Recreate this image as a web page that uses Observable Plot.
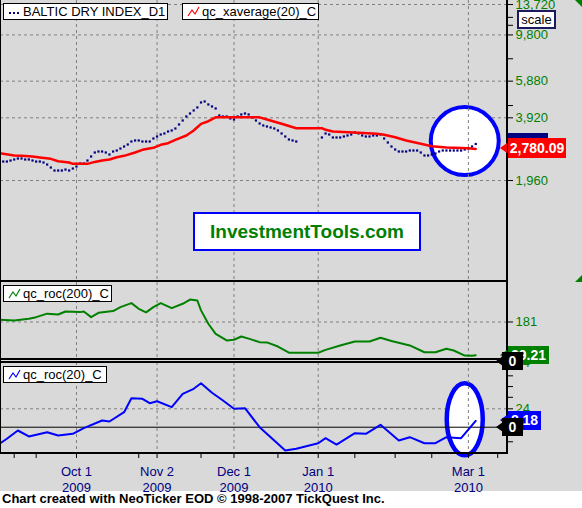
<!DOCTYPE html>
<html><head><meta charset="utf-8">
<script src="https://cdn.jsdelivr.net/npm/d3@7"></script>
<script src="https://cdn.jsdelivr.net/npm/@observablehq/plot@0.6"></script>
<style>
html,body{margin:0;padding:0;background:#fff;}
#chart{position:relative;width:582px;height:508px;background:#fff;font-family:"Liberation Sans",Arial,sans-serif;overflow:hidden;}
#bg{position:absolute;left:0;top:0;width:582px;height:491px;background:#d9d9d9;}
.abs{position:absolute;}
.blk{position:absolute;background:#000;}
.legend{position:absolute;background:#fff;border:1px solid #000;font-size:13px;line-height:16px;white-space:nowrap;color:#000;box-sizing:border-box;height:17px;}
.legend svg{position:absolute;left:3px;top:2px;}
.legend span{position:absolute;left:19px;top:0px;}
.vlab{position:absolute;color:#fff;font-weight:bold;font-size:14px;text-align:center;box-sizing:border-box;white-space:nowrap;}
.tri{position:absolute;width:0;height:0;}
</style></head>
<body><div id="chart"><div id="bg"></div></div>
<script>
// ---------------- data ----------------
const bdiStart = "2009-09-03";           // first daily bar (weekdays, consecutive)
const bdi = [2418,2418,2445,2473,2500,2500,2473,2473,2445,2418,2418,2392,2339,2263,2189,2189,2189,2213,2189,2238,
 2288,2365,2365,2445,2556,2672,2701,2701,2672,2613,
 2701,2731,2792,2855,2919,3017,3051,3051,3017,3017,
 3017,3119,3189,3260,3297,3370,3408,3484,3642,3806,
 3979,4113,4252,4396,4645,4697,4544,4444,4347,4023,
 3979,3979,3892,3849,3979,4068,4113,4068,3935,3806,
 3682,3602,3562,3523,3484,3408,3297,3189,3085,3051,
 3017,null,null,null,null,null,null,3154,3297,3260,
 3154,3154,3154,3189,3224,3260,3333,3297,3224,3189,
 3189,3224,3224,3260,3119,2984,2855,2762,2701,2701,
 2701,2731,2731,2731,2672,2585,2585,2613,2642,2701,
 2731,2731,2731,2731,2731,2731,2762,2792,2855,2935];

const avgDates = ["2009-09-02","2009-09-08","2009-09-10","2009-09-15","2009-09-17","2009-09-22","2009-09-24","2009-09-29","2009-09-30",
 "2009-10-06","2009-10-08","2009-10-12","2009-10-14","2009-10-16","2009-10-20","2009-10-23","2009-10-27","2009-10-30",
 "2009-11-03","2009-11-05","2009-11-09","2009-11-12","2009-11-16","2009-11-18","2009-11-20","2009-11-24",
 "2009-12-10","2009-12-14","2009-12-18","2009-12-24","2010-01-04","2010-01-05","2010-01-07","2010-01-18","2010-01-25","2010-01-27",
 "2010-02-01","2010-02-04","2010-02-10","2010-02-15","2010-02-19","2010-03-01","2010-03-03"];
const avgVals = [2650,2584,2575,2556,2528,2491,2426,2392,2357,
 2357,2408,2445,2471,2536,2575,2671,2752,2814,
 2909,2960,3073,3223,3407,3669,3776,3940,
 3940,3847,3669,3494,3494,3433,3369,3321,3285,3249,
 3163,3050,2941,2864,2823,2801,2780.09];

const roc200Dates = ["2009-09-02","2009-09-08","2009-09-14","2009-09-16","2009-09-21","2009-09-24","2009-09-28","2009-10-02","2009-10-05","2009-10-07","2009-10-09",
 "2009-10-15","2009-10-19","2009-10-22","2009-10-26","2009-10-28","2009-10-30","2009-11-03","2009-11-06","2009-11-11","2009-11-13","2009-11-17","2009-11-18",
 "2009-11-20","2009-11-24","2009-11-27","2009-12-01","2009-12-03","2009-12-07","2009-12-10","2009-12-14","2009-12-17","2009-12-22",
 "2010-01-01","2010-01-05","2010-01-11","2010-01-15","2010-01-21","2010-01-26","2010-01-29","2010-02-05","2010-02-11","2010-02-16",
 "2010-02-19","2010-02-23","2010-02-26","2010-03-02","2010-03-03"];
const roc200Vals = [191,188,196,203,219,215,229,226,229,203,223,
 231,249,267,241,225,249,267,244,264,283,279,234,
 173,127,97,100,115,105,89,88,69,41,
 41,54,74,92,92,109,94,74,43,43,
 59,51,28,27,29.21];

const roc20Dates = ["2009-09-02","2009-09-04","2009-09-09","2009-09-14","2009-09-21","2009-09-24","2009-09-30","2009-10-05","2009-10-12","2009-10-14",
 "2009-10-20","2009-10-22","2009-10-27","2009-10-29","2009-11-02","2009-11-06","2009-11-11","2009-11-16","2009-11-18","2009-11-23",
 "2009-11-26","2009-12-01","2009-12-04","2009-12-10","2009-12-16","2009-12-21","2009-12-24","2010-01-01","2010-01-05","2010-01-08",
 "2010-01-15","2010-01-20","2010-01-26","2010-02-02","2010-02-05","2010-02-11","2010-02-16","2010-02-19","2010-02-25","2010-03-03"];
const roc20Vals = [-21.6,-15.1,-4.3,-12.1,-6.5,-10.8,-8.6,-1.3,8.7,7.4,
 19.6,37.8,37.0,31.3,33.9,26.1,43.5,50.1,57.4,44.9,
 34.8,24.0,24.8,0,-17.3,-30.4,-28.2,-20.9,-14.3,-22.6,
 -7.8,-8.6,3.1,-17.3,-13.0,-20.9,-20.9,-13.0,-14.3,8.18];

const majorDates = ["2009-10-01","2009-11-02","2009-12-01","2010-01-01","2010-03-01"];
const majorLabels = ["Oct 1\n2009","Nov 2\n2009","Dec 1\n2009","Jan 1\n2010","Mar 1\n2010"];
const minorDates = ["2009-09-08","2009-09-16","2009-10-26","2009-11-18","2009-12-17","2010-01-15","2010-02-01","2010-02-15","2010-03-11"];

const topTicks = [1960, 3920, 5880, 9800, 13720];
const topMinor = [4490, 7530, 10900, 11900];
const midTicks = [181];
const botTicks = [24, 84];
const botMinor = [67, 53, 39, 10, -5, -19];

const topNote = {date: "2010-02-26", value: 3030};
const botNote = {date: "2010-02-26", value: 10.4};

const legendTop = ["BALTIC DRY INDEX_D1", "qc_xaverage(20)_C"];
const legendMid = "qc_roc(200)_C";
const legendBot = "qc_roc(20)_C";
const brand = "InvestmentTools.com";
const caption = "Chart created with NeoTicker EOD \u00a9 1998-2007 TickQuest Inc.";

// ---------------- helpers ----------------
const REF = Date.UTC(2009, 7, 31); // a Monday
function wd(s) { // weekday bar index, Oct 1 2009 = 0
  const days = Math.round((Date.parse(s + "T00:00:00Z") - REF) / 864e5);
  const w = Math.floor(days / 7), r = days - 7 * w;
  return 5 * w + Math.min(r, 4) - 23;
}
const X0 = wd(bdiStart);
const bdiData = bdi.map((v, i) => ({x: X0 + i, y: v})).filter(d => d.y != null);
const avgData = avgDates.map((d, i) => ({x: wd(d), y: avgVals[i]}));
const r200Data = roc200Dates.map((d, i) => ({x: wd(d), y: roc200Vals[i]}));
const r20Data = roc20Dates.map((d, i) => ({x: wd(d), y: roc20Vals[i]}));
const majorX = majorDates.map(wd);
const minorX = minorDates.map(wd);
const labelOf = new Map(majorX.map((x, i) => [x, majorLabels[i]]));

function ellipse(rx, ry) {
  const k = 0.5523;
  return {draw(c) {
    c.moveTo(rx, 0);
    c.bezierCurveTo(rx, k * ry, k * rx, ry, 0, ry);
    c.bezierCurveTo(-k * rx, ry, -rx, k * ry, -rx, 0);
    c.bezierCurveTo(-rx, -k * ry, -k * rx, -ry, 0, -ry);
    c.bezierCurveTo(k * rx, -ry, rx, -k * ry, rx, 0);
    c.closePath();
  }};
}

const W = 582, MR = 76;
const xOpt = {type: "linear", domain: [-20.74, 117.4], axis: null};
const base = {width: W, marginLeft: 0, marginRight: MR, marginTop: 0,
  style: {background: "transparent", overflow: "visible", fontFamily: "'Liberation Sans', Arial, sans-serif", fontSize: "13px"}};
const grid = {stroke: "#808080", strokeDasharray: "3,3", strokeWidth: 1};
const GREEN = "#008000";

// ---------------- top panel ----------------
const pTop = Plot.plot({...base, height: 280, marginBottom: 0,
  x: xOpt, y: {type: "log", domain: [649, 14340], axis: null},
  marks: [
    Plot.ruleY(topTicks, grid),
    Plot.dot([topNote], {x: d => wd(d.date), y: "value", r: 34, fill: "#fff", stroke: "#0000ff", strokeWidth: 4}),
    Plot.ruleX(majorX, grid),
    Plot.dot(bdiData, {x: "x", y: "y", symbol: "square", r: 1.25, fill: "#000080"}),
    Plot.line(avgData, {x: "x", y: "y", stroke: "#ff0000", strokeWidth: 2.5}),
    Plot.axisY(topMinor, {anchor: "right", label: null, tickSize: 6, tickFormat: () => "", stroke: "#000"}),
    Plot.axisY(topTicks, {anchor: "right", label: null, tickSize: 6, tickPadding: 3, tickFormat: d3.format(","), fontSize: 13, stroke: "#000", fill: GREEN})
  ]});

// ---------------- middle panel ----------------
const pMid = Plot.plot({...base, height: 77, marginBottom: 0,
  x: xOpt, y: {domain: [10, 361], axis: null},
  marks: [
    Plot.ruleY(midTicks, grid),
    Plot.ruleX(majorX, grid),
    Plot.line(r200Data, {x: "x", y: "y", stroke: GREEN, strokeWidth: 2}),
    Plot.axisY(midTicks, {anchor: "right", label: null, tickSize: 6, tickPadding: 3, fontSize: 13, stroke: "#000", fill: GREEN})
  ]});

// ---------------- bottom panel ----------------
const pBot = Plot.plot({...base, height: 131, marginBottom: 40,
  x: xOpt, y: {domain: [-34.3, 84.4], axis: null},
  marks: [
    Plot.ruleY([botTicks[0]], grid),
    Plot.dot([botNote], {x: d => wd(d.date), y: "value", r: 20, symbol: ellipse(18, 36), fill: "#fff", stroke: "#0000ff", strokeWidth: 4.5}),
    Plot.ruleX(majorX, grid),
    Plot.ruleY([0], {stroke: "#000", strokeWidth: 1}),
    Plot.line(r20Data, {x: "x", y: "y", stroke: "#0000ff", strokeWidth: 2}),
    Plot.axisY(botMinor, {anchor: "right", label: null, tickSize: 6, tickFormat: () => "", stroke: "#000"}),
    Plot.axisY(botTicks, {anchor: "right", label: null, tickSize: 6, tickPadding: 3, fontSize: 13, stroke: "#000", fill: GREEN}),
    Plot.axisX(minorX, {label: null, tickSize: 5, tickFormat: () => "", stroke: "#000"}),
    Plot.axisX(majorX, {label: null, tickSize: 5, tickPadding: 6, tickFormat: d => labelOf.get(d), fontSize: 13, lineHeight: 1.23, stroke: "#000", fill: "#000080"})
  ]});

// ---------------- assemble ----------------
const chart = document.getElementById("chart");
function place(el, top) { el.style.position = "absolute"; el.style.left = "0px"; el.style.top = top + "px"; chart.appendChild(el); }
place(pTop, 0); place(pMid, 282); place(pBot, 362);

function div(cls, css, html) { const d = document.createElement("div"); d.className = cls; Object.assign(d.style, css); if (html != null) d.innerHTML = html; chart.appendChild(d); return d; }
function px(v) { return v + "px"; }

// frame lines
div("blk", {left: "0px", top: "0px", width: "1px", height: "454px"});
div("blk", {left: "0px", top: "280px", width: "508px", height: "2px"});
div("blk", {left: "0px", top: "358px", width: "508px", height: "2px"});
div("blk", {left: "0px", top: "361px", width: "508px", height: "2px"});
div("blk", {left: "0px", top: "452px", width: "508px", height: "2px"});
div("blk", {left: "506px", top: "0px", width: "2px", height: "454px"});

// legends
const zig = c => `<svg width="14" height="12"><polyline points="2,10 6,4 9,8 13,1" fill="none" stroke="${c}" stroke-width="1.2"/></svg>`;
const dots = `<svg width="14" height="12"><rect x="2" y="6" width="2" height="2" fill="#000080"/><rect x="6" y="6" width="2" height="2" fill="#000080"/><rect x="10" y="6" width="2" height="2" fill="#000080"/></svg>`;
div("legend", {left: "3px", top: "3px", width: "165px"}, dots + `<span>${legendTop[0]}</span>`);
div("legend", {left: "182px", top: "3px", width: "137px"}, zig("#ff0000") + `<span>${legendTop[1]}</span>`);
div("legend", {left: "3px", top: "285px", width: "109px"}, zig(GREEN) + `<span>${legendMid}</span>`);
div("legend", {left: "3px", top: "366px", width: "104px"}, zig("#0000ff") + `<span>${legendBot}</span>`);

// brand box
div("abs", {left: "193px", top: "212px", width: "228px", height: "39px", boxSizing: "border-box", background: "#fff", border: "2px solid #0000ff",
  color: GREEN, fontWeight: "bold", fontSize: "19px", lineHeight: "35px", textAlign: "center"}, brand);

// scale button
div("abs", {left: "517px", top: "10px", width: "39px", height: "19px", boxSizing: "border-box", background: "#fff", border: "2px solid #1a1a5e",
  fontSize: "13px", lineHeight: "15px", textAlign: "center", color: "#000"}, "scale");

// green corner triangles
div("tri", {left: "575px", top: "0px", borderTop: "7px solid #008000", borderLeft: "7px solid transparent"});
div("tri", {left: "575px", top: "275px", borderBottom: "7px solid #008000", borderLeft: "7px solid transparent"});

// last-value labels via the plots' y scales
const yT = pTop.scale("y"), yM = pMid.scale("y"), yB = pBot.scale("y");
function pointer(x, y, color) { div("tri", {left: px(x), top: px(y - 5), borderTop: "5px solid transparent", borderBottom: "5px solid transparent", borderRight: "7px solid " + color}); }
function vlab(left, top, w, h, bg, text) { return div("vlab", {left: px(left), top: px(top), width: px(w), height: px(h), background: bg, lineHeight: px(h)}, text); }

const yBdi = yT.apply(bdi[bdi.length - 1]);
vlab(508, yBdi - 10, 40, 20, "#000080", "");
const yAvg = yT.apply(avgVals[avgVals.length - 1]);
pointer(500, yAvg, "#ff0000");
vlab(508, yAvg - 10, 58, 20, "#ff0000", d3.format(",.2f")(avgVals[avgVals.length - 1]));

const yR200 = 282 + yM.apply(roc200Vals[roc200Vals.length - 1]);
pointer(500, yR200, GREEN);
vlab(508, yR200 - 9, 41, 18, GREEN, roc200Vals[roc200Vals.length - 1].toFixed(2));
const yZ1 = 282 + yM.apply(0);
pointer(496, yZ1, "#000");
vlab(502, yZ1 - 9, 21, 18, "#000", "0");

const yR20 = 362 + yB.apply(roc20Vals[roc20Vals.length - 1]);
pointer(500, yR20, "#0000ff");
vlab(508, yR20 - 9, 33, 19, "#0000ff", roc20Vals[roc20Vals.length - 1].toFixed(2));
const yZ2 = 362 + yB.apply(0);
pointer(496, yZ2, "#000");
vlab(502, yZ2 - 9, 21, 18, "#000", "0");

// caption
div("abs", {left: "2px", top: "491px", fontSize: "13px", fontWeight: "bold", lineHeight: "16px", color: "#000", whiteSpace: "nowrap"}, caption);
</script>
</body></html>
